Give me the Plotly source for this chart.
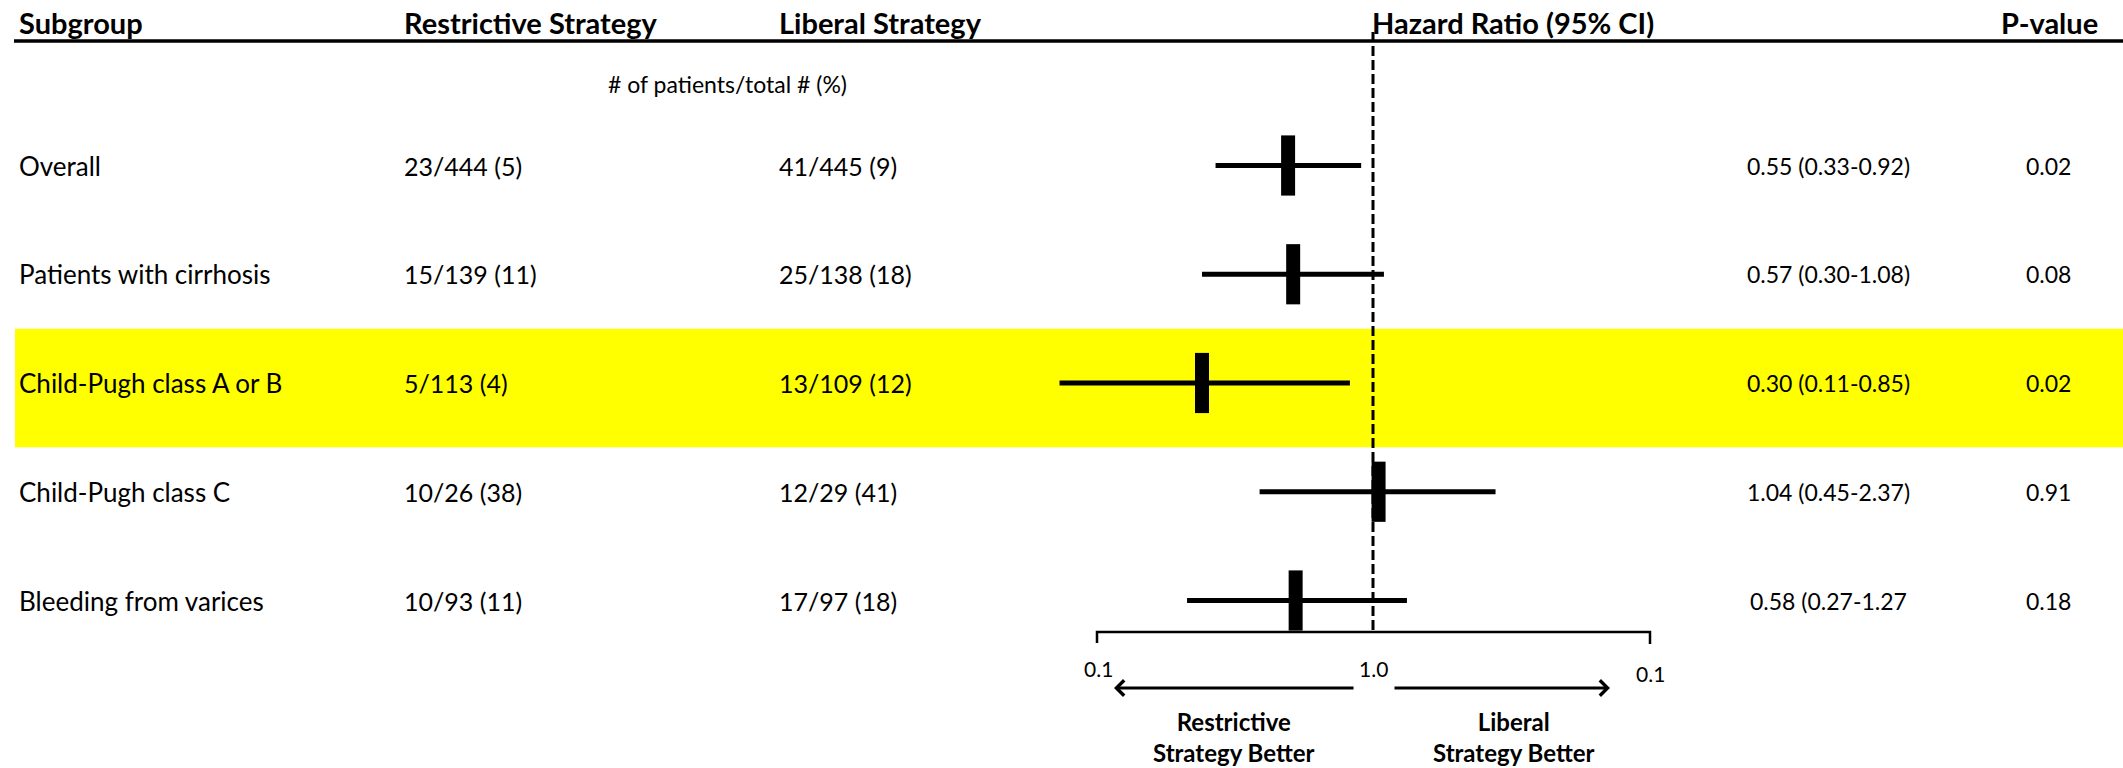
import math
import plotly.graph_objects as go

# ---- data -----------------------------------------------------------------
subgroups = [
    "Overall",
    "Patients with cirrhosis",
    "Child-Pugh class A or B",
    "Child-Pugh class C",
    "Bleeding from varices",
]
restrictive_events = [23, 15, 5, 10, 10]
restrictive_totals = [444, 139, 113, 26, 93]
liberal_events = [41, 25, 13, 12, 17]
liberal_totals = [445, 138, 109, 29, 97]
hazard_ratio = [0.55, 0.57, 0.30, 1.04, 0.58]
ci_low = [0.33, 0.30, 0.11, 0.45, 0.27]
ci_high = [0.92, 1.08, 0.85, 2.37, 1.27]
hr_labels = [
    "0.55 (0.33-0.92)",
    "0.57 (0.30-1.08)",
    "0.30 (0.11-0.85)",
    "1.04 (0.45-2.37)",
    "0.58 (0.27-1.27",
]
p_values = ["0.02", "0.08", "0.02", "0.91", "0.18"]
highlighted = "Child-Pugh class A or B"

column_headers = ["Subgroup", "Restrictive Strategy", "Liberal Strategy",
                  "Hazard Ratio (95% CI)", "P-value"]
count_caption = "# of patients/total # (%)"
scale_labels = ["0.1", "1.0", "0.1"]
null_value = 1.0
favours_labels = ["Restrictive<br>Strategy Better", "Liberal<br>Strategy Better"]

# ---- layout constants (pixels) --------------------------------------------
W, H = 2123, 768
FONT = "Lato, 'Open Sans', sans-serif"
NULL_PX = 1373          # where HR = 1 sits
PX_PER_DECADE = 327     # log-scale stretch of the forest panel
ROW_TOP_PX = 165.5      # centre of the first row
ROW_PITCH_PX = 108.75   # distance between rows
COL_X = [17, 402, 777, 1370, 1999]
HR_TEXT_X = 1828
P_TEXT_X = 2048
HEADER_Y = 23
RULE_Y = 41
CAPTION_Y = 84
SCALE_Y = 632
SCALE_LEFT, SCALE_RIGHT = 1097, 1650


def fx(px):
    return px / W


def fy(px):
    return 1 - px / H


rows = list(range(len(subgroups)))
x_range = [-NULL_PX / PX_PER_DECADE, (W - NULL_PX) / PX_PER_DECADE]
y_range = [(H - ROW_TOP_PX) / ROW_PITCH_PX, -ROW_TOP_PX / ROW_PITCH_PX]

fig = go.Figure()

# hazard ratios with their confidence intervals
fig.add_trace(go.Scatter(
    x=hazard_ratio,
    y=rows,
    mode="markers",
    marker=dict(symbol="line-ns", size=43, color="black",
                line=dict(color="black", width=14)),
    error_x=dict(type="data", symmetric=False,
                 array=[h - m for h, m in zip(ci_high, hazard_ratio)],
                 arrayminus=[m - l for m, l in zip(hazard_ratio, ci_low)],
                 thickness=5, width=0, color="black"),
    showlegend=False,
    hoverinfo="skip",
))

shapes = []
# highlighted subgroup band
hl = subgroups.index(highlighted)
shapes.append(dict(type="rect", xref="paper", yref="y", x0=fx(15), x1=1,
                   y0=hl - 0.5, y1=hl + 0.59, fillcolor="#ffff00",
                   line=dict(width=0), layer="below"))
# line of no effect
shapes.append(dict(type="line", xref="x", yref="paper",
                   x0=null_value, x1=null_value,
                   y0=fy(32), y1=fy(SCALE_Y),
                   line=dict(color="black", width=3, dash="10px,4px"),
                   layer="below"))
# header rule
shapes.append(dict(type="line", xref="paper", yref="paper", x0=fx(14), x1=1,
                   y0=fy(RULE_Y), y1=fy(RULE_Y),
                   line=dict(color="black", width=3.5)))
# scale bracket
shapes.append(dict(
    type="path", xref="paper", yref="paper",
    path=(f"M {fx(SCALE_LEFT)},{fy(643)} L {fx(SCALE_LEFT)},{fy(SCALE_Y)} "
          f"L {fx(SCALE_RIGHT)},{fy(SCALE_Y)} L {fx(SCALE_RIGHT)},{fy(644)}"),
    line=dict(color="black", width=2.5)))

ann = []


def text(x, y, s, size, xanchor="left", bold=False, xref="paper", yref="paper"):
    ann.append(dict(x=x, y=y, xref=xref, yref=yref, text=s, showarrow=False,
                    xanchor=xanchor, yanchor="middle", align="center",
                    font=dict(family=FONT, size=size, color="black",
                              weight="bold" if bold else "normal")))


# column headers
for cx, h in zip(COL_X, column_headers):
    text(fx(cx), fy(HEADER_Y), h, 29, bold=True)
text(fx(727), fy(CAPTION_Y), count_caption, 23, xanchor="center")

# table body
for i, name in enumerate(subgroups):
    text(fx(COL_X[0]), i, name, 26, yref="y")
    r = f"{restrictive_events[i]}/{restrictive_totals[i]} " \
        f"({round(100 * restrictive_events[i] / restrictive_totals[i])})"
    lb = f"{liberal_events[i]}/{liberal_totals[i]} " \
         f"({round(100 * liberal_events[i] / liberal_totals[i])})"
    text(fx(COL_X[1]), i, r, 25, yref="y")
    text(fx(COL_X[2]), i, lb, 25, yref="y")
    text(fx(HR_TEXT_X), i, hr_labels[i], 23, xanchor="center", yref="y")
    text(fx(P_TEXT_X), i, p_values[i], 23, xanchor="center", yref="y")

# scale labels (annotations on a log axis take log10 positions)
text(fx(SCALE_LEFT + 1), fy(668), scale_labels[0], 21, xanchor="center")
text(math.log10(null_value), fy(668), scale_labels[1], 21,
     xanchor="center", xref="x")
text(fx(SCALE_RIGHT), fy(673), scale_labels[2], 21, xanchor="center")

# direction arrows
for head, tail in [(1114, 1355), (1610, 1393)]:
    ann.append(dict(x=fx(head), y=fy(688), xref="paper", yref="paper",
                    ax=tail - head, ay=0, text="", showarrow=True,
                    arrowhead=4, arrowsize=1, arrowwidth=3,
                    arrowcolor="black"))
text(fx(1234), fy(737), favours_labels[0], 24, xanchor="center", bold=True)
text(fx(1514), fy(737), favours_labels[1], 24, xanchor="center", bold=True)

fig.update_layout(
    width=W, height=H, autosize=False,
    margin=dict(l=0, r=0, t=0, b=0, pad=0),
    paper_bgcolor="white", plot_bgcolor="rgba(0,0,0,0)",
    xaxis=dict(type="log", range=x_range, domain=[0, 1], visible=False,
               fixedrange=True),
    yaxis=dict(range=y_range, domain=[0, 1], visible=False, fixedrange=True),
    shapes=shapes,
    annotations=ann,
    showlegend=False,
)

fig.write_html("out.html")
